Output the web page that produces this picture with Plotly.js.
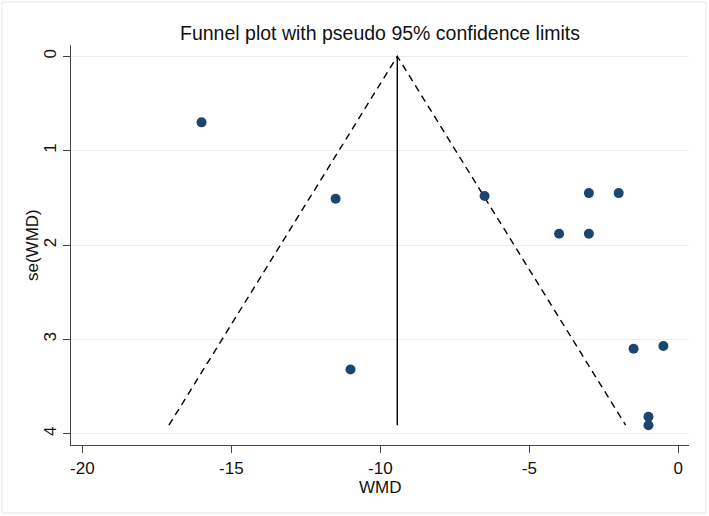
<!DOCTYPE html>
<html>
<head>
<meta charset="utf-8">
<script src="https://cdn.plot.ly/plotly-3.0.1.min.js"></script>
<style>
  html, body { margin: 0; padding: 0; background: #ffffff; }
  #chart { width: 709px; height: 516px; }
</style>
</head>
<body>
<div id="chart"></div>
<script>
// Study effects (weighted mean difference) and their standard errors
const wmd   = [-16.0, -11.5, -11.0, -6.5, -4.0, -3.0, -3.0, -2.0, -1.5, -0.5, -1.0, -1.0];
const seWmd = [0.70, 1.51, 3.32, 1.48, 1.88, 1.88, 1.45, 1.45, 3.10, 3.07, 3.82, 3.91];

// Pooled estimate and the largest standard error (bottom of the funnel)
const pooled = -9.43;
const seMax = 3.91;
const z95 = 1.96;

// Axis ticks
const xTicks = [-20, -15, -10, -5, 0];
const yTicks = [0, 1, 2, 3, 4];

const fontFamily = '"Liberation Sans", Arial, Helvetica, sans-serif';

const funnelX = [pooled - z95 * seMax, pooled, pooled + z95 * seMax];
const funnelY = [seMax, 0, seMax];

const traces = [
  {
    x: funnelX, y: funnelY,
    type: 'scatter', mode: 'lines',
    line: { color: '#000000', width: 1.4, dash: '7px,5px' },
    hoverinfo: 'skip', showlegend: false
  },
  {
    x: [pooled, pooled], y: [0, seMax],
    type: 'scatter', mode: 'lines',
    line: { color: '#000000', width: 1.4 },
    hoverinfo: 'skip', showlegend: false
  },
  {
    x: wmd, y: seWmd,
    type: 'scatter', mode: 'markers',
    marker: { color: '#1a476f', size: 10, line: { width: 0 } },
    showlegend: false
  }
];

const layout = {
  width: 709,
  height: 516,
  margin: { l: 71, r: 20, t: 45, b: 71 },
  paper_bgcolor: '#ffffff',
  plot_bgcolor: '#ffffff',
  font: { family: fontFamily, color: '#111111', size: 17 },
  title: {
    text: 'Funnel plot with pseudo 95% confidence limits',
    font: { family: fontFamily, size: 19.5, color: '#111111' },
    x: 0.5, xref: 'paper', xanchor: 'center',
    y: 0.936, yref: 'container', yanchor: 'middle'
  },
  xaxis: {
    range: [-20.38, 0.36],
    tickvals: xTicks,
    ticktext: xTicks.map(String),
    ticks: 'outside', ticklen: 7, tickwidth: 1, tickcolor: '#444444',
    showline: true, linecolor: '#444444', linewidth: 1,
    showgrid: false, zeroline: false,
    tickfont: { size: 17 },
    ticklabelstandoff: 1
  },
  yaxis: {
    range: [4.12, -0.12],
    tickvals: yTicks,
    ticktext: yTicks.map(String),
    tickangle: -90,
    ticks: 'outside', ticklen: 7, tickwidth: 1, tickcolor: '#444444',
    showline: true, linecolor: '#444444', linewidth: 1,
    showgrid: true, gridcolor: '#eaeeee', gridwidth: 1,
    zeroline: false,
    tickfont: { size: 17 }
  },
  annotations: [
    {
      // x-axis title
      text: 'WMD', showarrow: false,
      xref: 'paper', yref: 'paper', x: 0.5, y: -0.106,
      xanchor: 'center', yanchor: 'middle',
      font: { size: 17, color: '#111111' }
    },
    {
      // y-axis title
      text: 'se(WMD)', showarrow: false, textangle: -90,
      xref: 'paper', yref: 'paper', x: -0.0631, y: 0.5,
      xanchor: 'center', yanchor: 'middle',
      font: { size: 17, color: '#111111' }
    }
  ],
  shapes: [
    {
      type: 'rect', xref: 'paper', yref: 'paper',
      x0: -0.1117, x1: 1.0275, y0: -0.17, y1: 1.1075,
      line: { color: '#e6e6e6', width: 1 },
      fillcolor: 'rgba(0,0,0,0)', layer: 'below'
    }
  ]
};

Plotly.newPlot('chart', traces, layout, { displayModeBar: false, staticPlot: true });
</script>
</body>
</html>
